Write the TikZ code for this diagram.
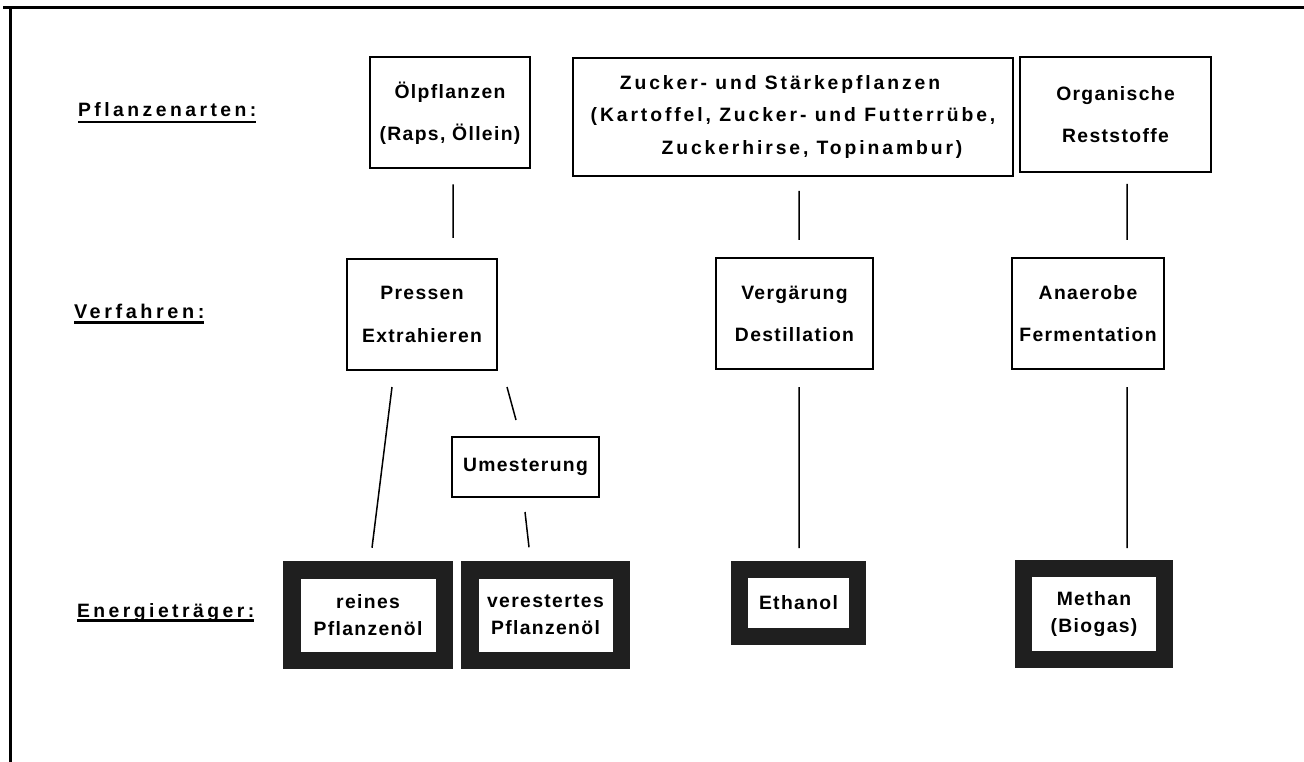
\documentclass[tikz,border=0pt]{standalone}
\usepackage{fontspec}
\setmainfont{Liberation Sans}[LetterSpace=7]
\newfontfamily\headfont{Liberation Sans}[LetterSpace=18]
\newfontfamily\weitfont{Liberation Sans}[LetterSpace=15]
\usetikzlibrary{calc}

\begin{document}
\begin{tikzpicture}[x=0.2mm,y=-0.2mm,
		kasten/.style={draw, line width=0.4mm, inner sep=0pt, outer sep=0pt, align=center, font=\bfseries\fontsize{11}{24}\selectfont},
		traeger/.style={draw=black!88, line width=3.5mm, fill=white, inner sep=0pt, outer sep=0pt, align=center, font=\bfseries\fontsize{11}{15.3}\selectfont},
		ebene/.style={inner sep=0pt, outer sep=0pt, anchor=base west, font=\headfont\bfseries\fontsize{11}{13}\selectfont},
		strich/.style={line width=0.3mm}]
			\useasboundingbox (0,0) rectangle (1304,762);

			% Rahmen
			\draw[line width=0.6mm] (3,8) -- (1304,8);
			\draw[line width=0.6mm] (10,8) -- (10,762);

			% Ebenen
			\node (pflanz) at (78,117) [ebene] {Pflanzenarten:};
			\node (verf) at (74,318) [ebene, font=\headfont\bfseries\fontsize{11.3}{13}\selectfont] {Verfahren:};
			\node (energ) at (77,617) [ebene] {Energieträger:};
			\draw[line width=0.45mm]
			([yshift=-1mm]pflanz.base west) -- ([yshift=-1mm]pflanz.base east)
			([yshift=-0.9mm]verf.base west) -- ([yshift=-0.9mm]verf.base east)
			([yshift=-0.7mm]energ.base west) -- ([yshift=-0.7mm]energ.base east);


			% Pflanzenarten
			\node (oel) at (450,113) [kasten, minimum width=32mm, minimum height=22.2mm] {Ölpflanzen\\(Raps, Öllein)};
			\node (zucker) at (793,117) [kasten, minimum width=88mm, minimum height=23.6mm, font=\weitfont\bfseries\fontsize{11}{18.5}\selectfont] {Zucker- und Stärkepflanzen\hspace*{5.2mm}\\(Kartoffel, Zucker- und Futterrübe,\\\hspace*{7.6mm}Zuckerhirse, Topinambur)};
			\node (organ) at (1115.5,114.5) [kasten, minimum width=38.2mm, minimum height=23mm] {Organische\\Reststoffe};

			% Verfahren
			\node (pressen) at (422,314.5) [kasten, minimum width=30mm, minimum height=22.2mm] {Pressen\\Extrahieren};
			\node (vergaer) at (794.5,313.5) [kasten, minimum width=31.4mm, minimum height=22.2mm] {Vergärung\\Destillation};
			\node (anaerob) at (1088,313.5) [kasten, minimum width=30.4mm, minimum height=22.2mm] {Anaerobe\\Fermentation};
			\node (umest) at (525.5,467) [kasten, minimum width=29.4mm, minimum height=12mm] {Umesterung};

			% Energietraeger
			\node (reines) at (368,615) [traeger, minimum width=30.5mm, minimum height=18.1mm] {reines\\Pflanzenöl};
			\node (verest) at (545.5,615) [traeger, minimum width=30.3mm, minimum height=18.1mm] {verestertes\\Pflanzenöl};
			\node (ethanol) at (798.5,603) [traeger, minimum width=23.6mm, minimum height=13.4mm] {Ethanol};
			\node (methan) at (1094,614) [traeger, minimum width=28.2mm, minimum height=18.2mm] {Methan\\(Biogas)};

			\draw[strich]
			($(oel.south)+(3,16)$) -- ($(pressen.north)+(31,-21)$)
			($(zucker.south)+(6,15)$) -- ($(vergaer.north)+(4.5,-18)$)
			($(organ.south)+(11.5,12)$) -- ($(anaerob.north)+(39,-18)$);

			\draw[strich]
			($(pressen.south)+(-30,17)$) -- ($(reines.north)+(4,-22)$)
			($(pressen.south)+(85,17)$) -- ($(umest.north)+(-9.5,-17)$)
			($(umest.south)+(-0.5,15)$) -- ($(verest.north)+(-16.5,-22.5)$)
			($(vergaer.south)+(4.5,18)$) -- ($(ethanol.north)+(0.5,-21.5)$)
			($(anaerob.south)+(39,18)$) -- ($(methan.north)+(33,-20.5)$);



		\end{tikzpicture}
\end{document}
